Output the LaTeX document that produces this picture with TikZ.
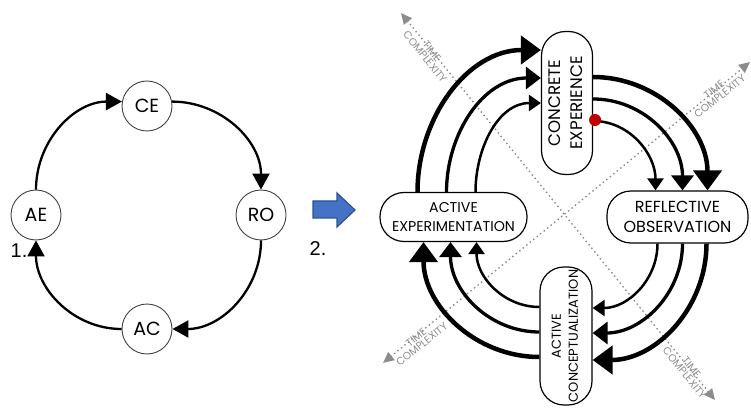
\documentclass[tikz,border=0pt]{standalone}
\usepackage{fontspec}
\setmainfont{Poppins}
\newfontfamily\numfont{Liberation Sans}
\usetikzlibrary{arrows.meta}

\definecolor{axisgray}{HTML}{8C8C8C}
\definecolor{shiftblue}{HTML}{4472C4}
\definecolor{shiftblueline}{HTML}{2F528F}
\definecolor{startred}{HTML}{C00000}

\begin{document}
\begin{tikzpicture}[
    x=1pt, y=1pt,
    stage/.style={
        draw=black!75,
        circle,
        line width=0.9pt,
        minimum size=50pt,
        inner sep=0pt,
        font=\fontsize{19}{19}\selectfont
    },
    mode/.style={
        draw,
        fill=white,
        line width=1.2pt,
        rounded corners=24pt,
        inner sep=0pt,
        align=center,
        font=\fontsize{16}{20}\selectfont
    },
    hmode/.style={mode, minimum width=146pt, minimum height=50pt},
    vmode/.style={mode, minimum width=51pt, minimum height=140pt},
    cyc/.style={line width=2.3pt, -{Triangle[length=16pt,width=17pt]}},
    thinarr/.style={line width=2.5pt, -{Triangle[length=12pt,width=16pt]}},
    medarr/.style={line width=3.3pt, -{Triangle[length=15pt,width=22pt]}},
    thickarr/.style={line width=4.5pt, -{Triangle[length=20pt,width=28pt]}},
    axis/.style={
        axisgray,
        line width=2pt,
        line cap=round,
        dash pattern=on 0pt off 4.5pt,
        {Triangle[length=11pt,width=10pt]}-{Triangle[length=11pt,width=10pt]}
    },
    axlabel/.style={font=\fontsize{10.5}{9}\selectfont, text=axisgray, align=center, inner sep=0pt}
]
\useasboundingbox (0,0) rectangle (751,407);

% ============================================================
% 1. SIMPLE CYCLE
% ============================================================
\node[stage] (ce) at (147,301) {CE};
\node[stage] (ae) at (36,192) {AE};
\node[stage] (ro) at (261,192) {RO};
\node[stage] (ac) at (147,78) {AC};

\draw[cyc] (ce.10) to[out=0,in=90] (ro.north);
\draw[cyc] (ro.south) to[out=-90,in=0] (ac.east);
\draw[cyc] (ac.west) to[out=180,in=-90] (ae.south);
\draw[cyc] (ae.north) to[out=90,in=180] (ce.170);

\node[font=\numfont\fontsize{20}{20}\selectfont] (one) at (19,156) {1.};
\node[font=\numfont\fontsize{20}{20}\selectfont] (two) at (318,158) {2.};

% block arrow between the two versions
\draw[fill=shiftblue, draw=shiftblueline, line width=1.2pt, line join=miter]
    (313,189) -- (337,189) -- (337,180) -- (355,197) -- (337,214) -- (337,206) -- (313,206) -- cycle;

% ============================================================
% 2. TIME / COMPLEXITY AXES
% ============================================================
\coordinate (tcUL) at (401,394);
\coordinate (tcLR) at (715,7);
\coordinate (tcUR) at (750,345);
\coordinate (tcLL) at (383,44);

\draw[axis] (tcUL) -- (tcLR);
\draw[axis] (tcLL) -- (tcUR);

\node[axlabel, rotate=-51] (tcULtxt) at (428.5,353) {TIME\\COMPLEXITY};
\node[axlabel, rotate=-51] (tcLRtxt) at (688,37) {TIME\\COMPLEXITY};
\node[axlabel, rotate=39] (tcURtxt) at (717,314) {TIME\\COMPLEXITY};
\node[axlabel, rotate=39] (tcLLtxt) at (419,66) {TIME\\COMPLEXITY};

% ============================================================
% 2. SPIRAL CYCLE
% ============================================================
\node[vmode, minimum height=143pt, font=\fontsize{16.7}{22}\selectfont] (cebox) at (567,304)
    {\rotatebox{90}{\begin{tabular}{@{}c@{}}CONCRETE\\EXPERIENCE\end{tabular}}};
\node[hmode, minimum width=141pt, minimum height=52pt] (robox) at (677.5,190) {REFLECTIVE\\OBSERVATION};
\node[vmode, minimum width=52pt, minimum height=138pt, font=\fontsize{13}{17}\selectfont] (acbox) at (566,71)
    {\rotatebox{90}{\begin{tabular}{@{}c@{}}ACTIVE\\CONCEPTUALIZATION\end{tabular}}};
\node[hmode, minimum width=147pt, minimum height=49pt, font=\fontsize{14.2}{19}\selectfont] (aebox) at (453.5,190)
    {ACTIVE\\EXPERIMENTATION};

% experience -> observation
\draw[thickarr] ([yshift=26pt]cebox.east) to[out=0,in=90] ([xshift=30pt]robox.north);
\draw[medarr] ([yshift=4pt]cebox.east) to[out=0,in=90] ([xshift=5pt]robox.north);
\draw[thinarr] ([yshift=-18pt]cebox.east) to[out=0,in=90] ([xshift=-22pt]robox.north);

% observation -> conceptualization
\draw[thinarr] ([xshift=-20pt]robox.south) to[out=-90,in=0] ([yshift=28pt]acbox.east);
\draw[medarr] ([xshift=5pt]robox.south) to[out=-90,in=0] ([yshift=3pt]acbox.east);
\draw[thickarr] ([xshift=29pt]robox.south) to[out=-90,in=0] ([yshift=-24pt]acbox.east);

% conceptualization -> experimentation
\draw[thinarr] ([yshift=29pt]acbox.west) to[out=180,in=-90] ([xshift=23pt]aebox.south);
\draw[medarr] ([yshift=4pt]acbox.west) to[out=180,in=-90] ([xshift=-3pt]aebox.south);
\draw[thickarr] ([yshift=-21pt]acbox.west) to[out=180,in=-90] ([xshift=-30pt]aebox.south);

% experimentation -> experience
\draw[thickarr] ([xshift=-36pt]aebox.north) to[out=90,in=180] ([yshift=53pt]cebox.west);
\draw[medarr] ([xshift=-7pt]aebox.north) to[out=90,in=180] ([yshift=25pt]cebox.west);
\draw[thinarr] ([xshift=22pt]aebox.north) to[out=90,in=180] (cebox.west);

% starting point
\node[circle, fill=startred, minimum size=12pt, inner sep=0pt] (start) at ([xshift=2pt,yshift=-17pt]cebox.east) {};

\end{tikzpicture}
\end{document}
